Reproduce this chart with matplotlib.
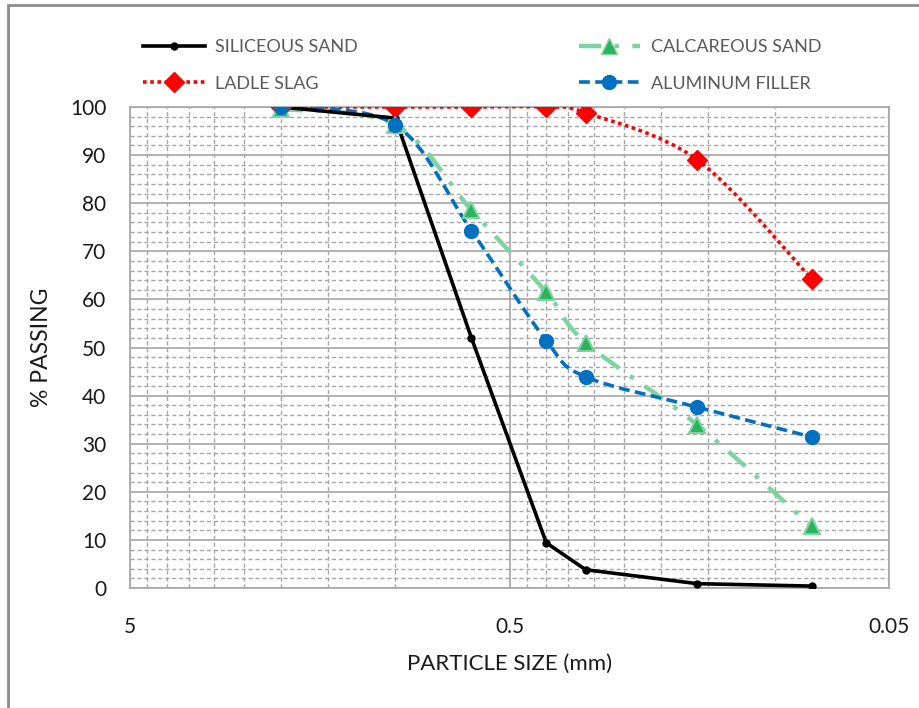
import numpy as np
import matplotlib
matplotlib.use("Agg")
import matplotlib.pyplot as plt
from matplotlib.path import Path
from matplotlib.patches import PathPatch, Rectangle
from matplotlib.lines import Line2D
from matplotlib.ticker import FixedLocator, NullFormatter, FixedFormatter

# ---- data ----
sizes_mm = [2.0, 1.0, 0.63, 0.4, 0.315, 0.16, 0.08]
siliceous_sand = [100, 97.7, 52, 9.4, 3.8, 0.9, 0.4]
ladle_slag = [100, 100, 100, 100, 98.8, 89, 64.3]
calcareous_sand = [99.6, 96.3, 78.6, 61.5, 51, 33.9, 12.8]
aluminum_filler = [100, 96.3, 74.3, 51.4, 43.9, 37.6, 31.4]
series_names = ["SILICEOUS SAND", "LADLE SLAG", "CALCAREOUS SAND", "ALUMINUM FILLER"]
x_ticks = [5, 0.5, 0.05]
x_tick_labels = ["5", "0.5", "0.05"]
y_ticks = list(range(0, 101, 10))

plt.rcParams['font.family'] = ['Lato', 'DejaVu Sans']

fig = plt.figure(figsize=(9.19, 7.08), dpi=100)
ax = fig.add_axes([130/919, 1-588/708, (889-130)/919, (588-107)/708])

# figure border
fig.patches.append(Rectangle((8/919, -0.1), 1.2, 1-5/708+0.1, transform=fig.transFigure,
                             fill=False, edgecolor='#8c8c8c', linewidth=2, zorder=0))

ax.set_xscale('log')
ax.set_xlim(5, 0.05)
ax.set_ylim(0, 100)

# grids
minor_x = [0.5*k for k in range(2, 10)] + [0.05*k for k in range(2, 10)]
ax.xaxis.set_major_locator(FixedLocator(x_ticks))
ax.xaxis.set_major_formatter(FixedFormatter(x_tick_labels))
ax.xaxis.set_minor_locator(FixedLocator(minor_x))
ax.xaxis.set_minor_formatter(NullFormatter())
ax.yaxis.set_major_locator(FixedLocator(y_ticks))
ax.yaxis.set_minor_locator(FixedLocator(list(range(0, 101, 2))))
ax.grid(which='major', color='#a6a6a6', linewidth=1.2, linestyle='-')
ax.grid(which='minor', color='#a6a6a6', linewidth=1.0, linestyle=(0, (3, 2)))
ax.set_axisbelow(True)
for s in ax.spines.values():
    s.set_color('#a6a6a6')
    s.set_linewidth(1.2)
ax.tick_params(which='both', length=0)
ax.tick_params(axis='y', pad=17, labelsize=15, labelcolor='#1a1a1a')
ax.tick_params(axis='x', pad=21, labelsize=15, labelcolor='#1a1a1a')

ax.set_ylabel('% PASSING', fontsize=16.5, labelpad=13, color='#1a1a1a')
ax.set_xlabel('PARTICLE SIZE (mm)', fontsize=16, labelpad=12, color='#1a1a1a')


def smooth_path(xs, ys):
    lx = np.log10(np.asarray(xs, float))
    y = np.asarray(ys, float)
    n = len(lx)
    verts = [(xs[0], ys[0])]
    codes = [Path.MOVETO]
    for i in range(n - 1):
        p0 = (lx[i-1], y[i-1]) if i > 0 else (lx[i], y[i])
        p1 = (lx[i], y[i])
        p2 = (lx[i+1], y[i+1])
        p3 = (lx[i+2], y[i+2]) if i + 2 < n else (lx[i+1], y[i+1])
        c1 = (p1[0] + (p2[0]-p0[0])/6, p1[1] + (p2[1]-p0[1])/6)
        c2 = (p2[0] - (p3[0]-p1[0])/6, p2[1] - (p3[1]-p1[1])/6)
        verts += [(10**c1[0], c1[1]), (10**c2[0], c2[1]), (10**p2[0], p2[1])]
        codes += [Path.CURVE4]*3
    return Path(verts, codes)

# styles
sil_style = dict(color='black', lw=2.6, ls='-')
lad_style = dict(color='#ff0000', lw=2.6, ls=(0, (1, 1)))
cal_style = dict(color='#7fd3a0', lw=3.2, ls=(0, (5, 3, 1, 3)))
alu_style = dict(color='#0070c0', lw=2.6, ls=(0, (3, 1.5)))

# Siliceous: straight
ax.plot(sizes_mm, siliceous_sand, color=sil_style['color'], lw=sil_style['lw'],
        marker='o', ms=5, zorder=5, solid_joinstyle='miter')

# Smoothed series
for ys, st, z in [(ladle_slag, lad_style, 4), (calcareous_sand, cal_style, 3), (aluminum_filler, alu_style, 4)]:
    pp = PathPatch(smooth_path(sizes_mm, ys), fill=False, edgecolor=st['color'],
                   linewidth=st['lw'], linestyle=st['ls'], transform=ax.transData, zorder=z)
    ax.add_patch(pp)

ax.plot(sizes_mm, ladle_slag, ls='none', marker='D', ms=10, color='#ff0000', zorder=6)
ax.plot(sizes_mm, calcareous_sand, ls='none', marker='^', ms=11, color='#2bb35e',
        markeredgecolor='#7fd3a0', markeredgewidth=1.5, zorder=6)
ax.plot(sizes_mm, aluminum_filler, ls='none', marker='o', ms=10, color='#0070c0', zorder=7)

handles = [
    Line2D([], [], color='black', lw=2.6, marker='o', ms=5),
    Line2D([], [], color='#ff0000', lw=2.6, ls=(0, (1, 1)), marker='D', ms=10),
    Line2D([], [], color='#7fd3a0', lw=3.2, ls=(0, (5, 3, 1, 3)), marker='^', ms=11,
           markerfacecolor='#2bb35e', markeredgecolor='#7fd3a0'),
    Line2D([], [], color='#0070c0', lw=2.6, ls=(0, (3, 1.5)), marker='o', ms=10),
]
leg = fig.legend(handles, series_names, ncol=2, loc='center left',
                 bbox_to_anchor=(127/919, 1-65.5/708), frameon=False, fontsize=13,
                 handlelength=3.4, handletextpad=0.6, columnspacing=12.2,
                 labelspacing=1.12, labelcolor='#595959')

fig.savefig('out.png', dpi=100)
